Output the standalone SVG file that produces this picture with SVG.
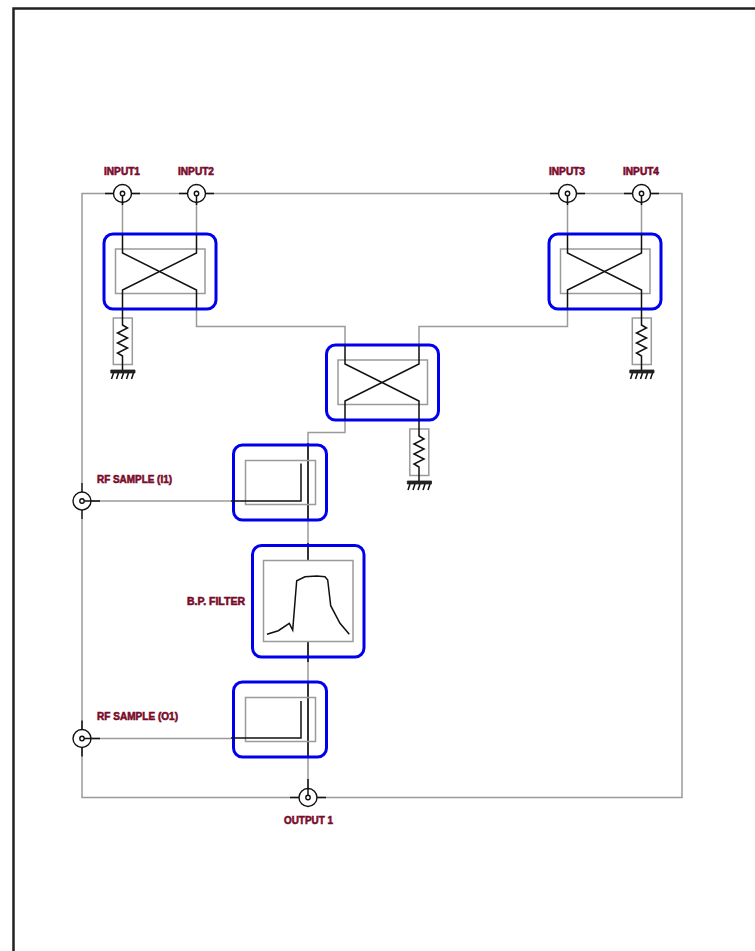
<svg xmlns="http://www.w3.org/2000/svg" width="755" height="951" viewBox="0 0 755 951">
<style>
.g{fill:none;stroke:#9a9a9a;stroke-width:1.5}
.k{fill:none;stroke:#111;stroke-width:1.5}
.d{fill:none;stroke:#333;stroke-width:2}
.b{fill:none;stroke:#0000ee;stroke-width:3}
.t{font-family:"Liberation Sans",Arial,sans-serif;font-size:10px;font-weight:bold;fill:#7a0a2a;stroke:#7a0a2a;stroke-width:.55}
.p{fill:#fff;stroke:#111;stroke-width:1.4}
</style>
<defs>
<g id="cp"><rect class="b" x="-18.500" y="-19" width="112" height="75" rx="9"/><rect class="g" x="-7" y="-4" width="89.500" height="44.500"/><path class="k" d="M0-19V0L74 37V56M74-19V0L0 37V56"/></g>
<g id="rs"><rect class="g" x="-9.200" y="0" width="19" height="46.500"/><path class="k" d="M0-8V7L5 10-5 15 5 20-5 25 5 30-5 35 0 38V53"/><path d="M-11.700 52H12.500V55H-11.700Z" fill="#222" stroke="#222" stroke-width=".8"/><path class="k" stroke-width="1.200" d="M-9 55-11 61M-4 55-6 61M1 55-1 61M6 55 4 61M11 55 9 61"/></g>
<g id="pt"><circle class="p" r="9"/><circle class="p" r="2.200"/></g>
<g id="cd"><rect class="b" x="-74.500" y="-56" width="93" height="75" rx="9"/><rect class="g" x="-62.500" y="-40.500" width="70" height="44"/></g>
</defs>
<path id="frame" d="M13.500 951V8.500H755" fill="none" stroke="#222" stroke-width="2.500"/>
<g id="connectors">
<path class="g" d="M82 483V193.500H682V797.500H82V519M82 519V729"/>
<path class="g" d="M122.500 194V234M196.500 194V234M567.500 194V234M641.500 194V234"/>
<path class="g" d="M196.500 309V326.500H345V345M567.500 309V326.500H419V345M345 420V432.500H308V561M308 641V797"/>
<path class="g" d="M82 501H231M82 738.500H231"/>
<path class="k" d="M105 193.500H140M179 193.500H214M550 193.500H585M624 193.500H659"/>
<path class="k" d="M82 483V519M82 501H100M82 720.500V756.500M82 738.500H100M290 797.500H326"/>
<path class="d" d="M308 443V520M308 543V561M308 641V662M308 683V758"/>
</g>
<g id="coupler1"><use href="#cp" x="122.500" y="253"/></g>
<g id="coupler2"><use href="#cp" x="567.500" y="253"/></g>
<g id="coupler3"><use href="#cp" x="345" y="364"/></g>
<g id="load1"><use href="#rs" x="122.500" y="318"/></g>
<g id="load2"><use href="#rs" x="641.500" y="318"/></g>
<g id="load3"><use href="#rs" x="419" y="429"/></g>
<g id="sampleI1"><use href="#cd" x="308" y="501"/><path class="k" d="M301 463.500V501H231"/></g>
<g id="sampleO1"><use href="#cd" x="308" y="738"/><path class="k" d="M301 701V738H231"/></g>
<g id="filter"><rect class="b" x="252.500" y="545.500" width="111.500" height="111.500" rx="9"/><rect class="g" x="263.500" y="560.500" width="89.500" height="81"/><path class="k" d="M267 634.300 278.300 630.700 289.300 623.300 292.700 630 296.700 580.700 305 576.700 316.700 576 325 576.700 327.700 580 330.700 605.700 340 623.300 349.300 634.300"/></g>
<g id="input1"><use href="#pt" x="122.500" y="193.500"/><path class="k" d="M122.500 195.700V205"/><text class="t" x="104" y="175" textLength="36" lengthAdjust="spacingAndGlyphs">INPUT1</text></g>
<g id="input2"><use href="#pt" x="196.500" y="193.500"/><path class="k" d="M196.500 195.700V205"/><text class="t" x="178" y="175" textLength="36" lengthAdjust="spacingAndGlyphs">INPUT2</text></g>
<g id="input3"><use href="#pt" x="567.500" y="193.500"/><path class="k" d="M567.500 195.700V205"/><text class="t" x="549" y="175" textLength="36" lengthAdjust="spacingAndGlyphs">INPUT3</text></g>
<g id="input4"><use href="#pt" x="641.500" y="193.500"/><path class="k" d="M641.500 195.700V205"/><text class="t" x="623" y="175" textLength="36" lengthAdjust="spacingAndGlyphs">INPUT4</text></g>
<g id="rfI1"><use href="#pt" x="82" y="501"/><path class="k" d="M84.200 501H91"/><text class="t" x="97" y="483" textLength="75" lengthAdjust="spacingAndGlyphs">RF SAMPLE (I1)</text></g>
<g id="rfO1"><use href="#pt" x="82" y="738.500"/><path class="k" d="M84.200 738.500H91"/><text class="t" x="97" y="720" textLength="81" lengthAdjust="spacingAndGlyphs">RF SAMPLE (O1)</text></g>
<g id="output1"><use href="#pt" x="308" y="797.500"/><path class="k" d="M308 779V795.300"/><text class="t" x="284" y="824" textLength="49" lengthAdjust="spacingAndGlyphs">OUTPUT 1</text></g>
<text class="t" x="187" y="605" textLength="58" lengthAdjust="spacingAndGlyphs">B.P. FILTER</text>
</svg>
